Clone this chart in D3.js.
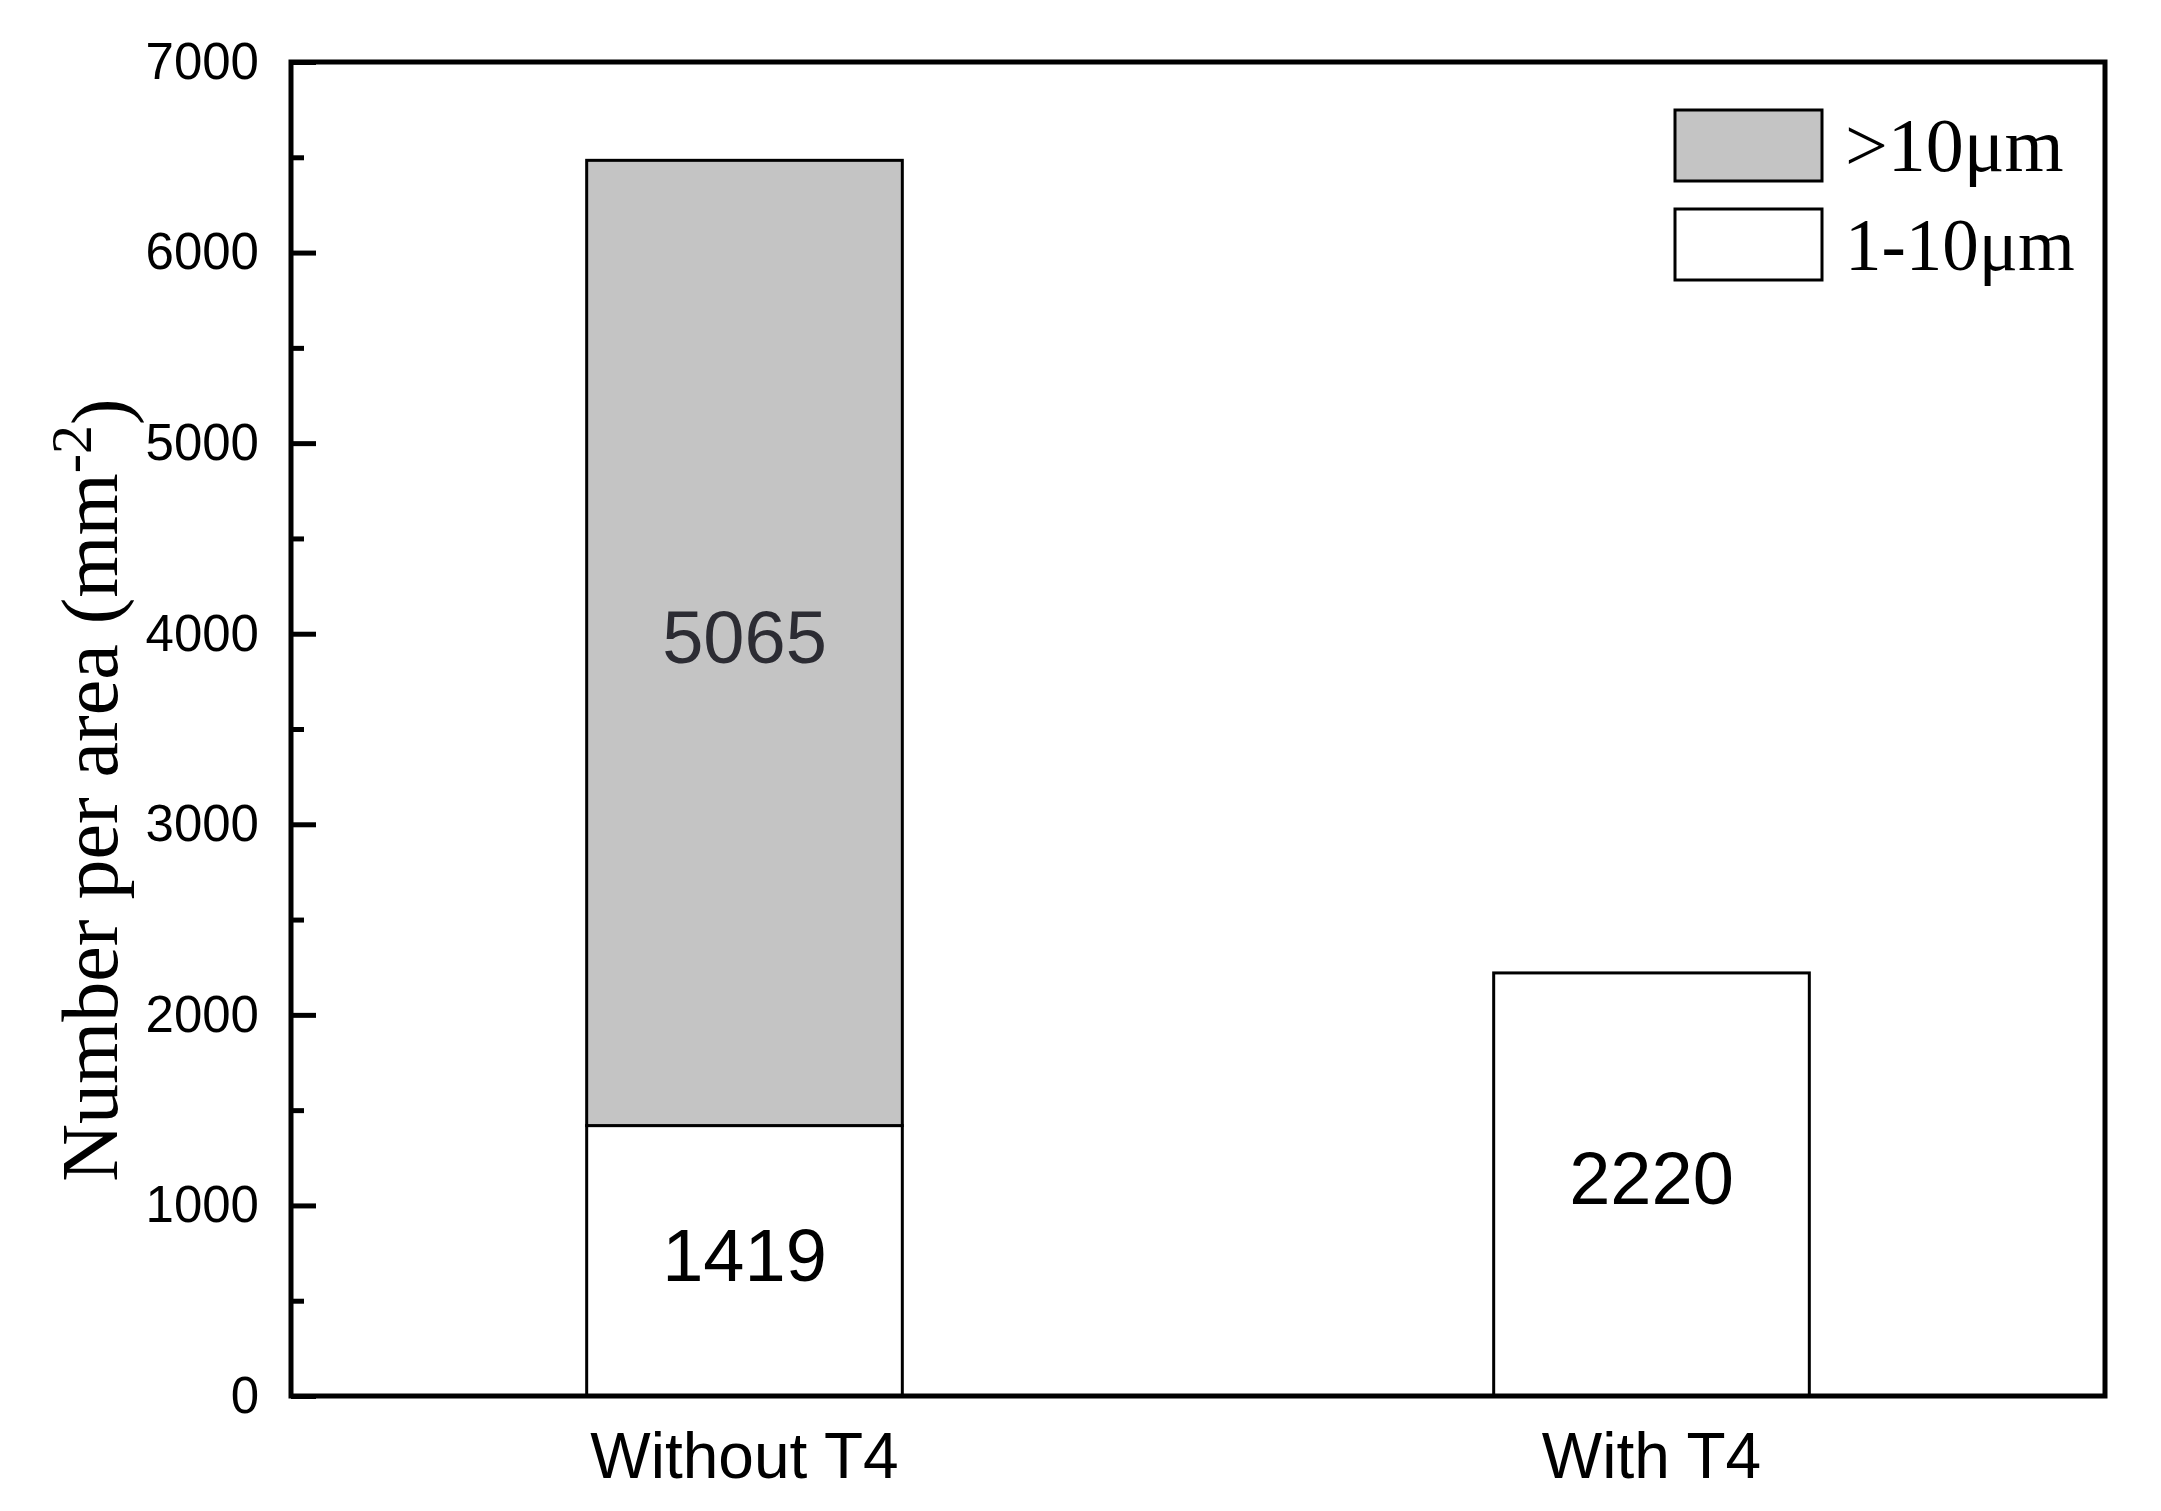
<!DOCTYPE html>
<html>
<head>
<meta charset="utf-8">
<script src="https://cdn.jsdelivr.net/npm/d3@7"></script>
<style>
  body { margin: 0; background: #fff; }
  .axis text { font-family: "Liberation Sans", Arial, sans-serif; fill: #000; }
</style>
</head>
<body>
<div id="chart"></div>
<script>
//data
var categories = ["Without T4", "With T4"];
var small = [1419, 2220];   // 1-10um
var large = [5065, 0];      // >10um
var seriesNames = ["1-10\u03bcm", ">10\u03bcm"];
var yTicks = [0, 1000, 2000, 3000, 4000, 5000, 6000, 7000];
var yMinor = [500, 1500, 2500, 3500, 4500, 5500, 6500];

var rows = categories.map(function(c, i){
    return {cat: c, small: small[i], large: large[i]};
});

var width = 2161, height = 1511;
var margin = {left: 291, right: 56, top: 62, bottom: 115};
var w = width - margin.left - margin.right,
    h = height - margin.top - margin.bottom;

var svg = d3.select("#chart").append("svg")
    .attr("width", width).attr("height", height);
var g = svg.append("g")
    .attr("transform", "translate(" + margin.left + "," + margin.top + ")");

//scales
var x = d3.scaleBand().domain(categories).range([0, w])
    .paddingInner(0.652).paddingOuter(0.326);
var y = d3.scaleLinear().domain([0, 7000]).range([h, 0]);
var fill = {small: "#ffffff", large: "#c4c4c4"};

//stacked bars
var stack = d3.stack().keys(["small", "large"])(rows);
stack.forEach(function(layer){
    g.selectAll(".bar-" + layer.key)
        .data(layer.filter(function(d){ return d[1] - d[0] > 0; }))
        .enter().append("rect")
        .attr("x", function(d){ return x(d.data.cat); })
        .attr("y", function(d){ return y(d[1]); })
        .attr("width", x.bandwidth())
        .attr("height", function(d){ return y(d[0]) - y(d[1]); })
        .attr("fill", fill[layer.key])
        .attr("stroke", "#000")
        .attr("stroke-width", 3);

    //value labels in the middle of each segment
    g.selectAll(".lab-" + layer.key)
        .data(layer.filter(function(d){ return d[1] - d[0] > 0; }))
        .enter().append("text")
        .attr("x", function(d){ return x(d.data.cat) + x.bandwidth()/2; })
        .attr("y", function(d){ return y((d[0] + d[1])/2); })
        .attr("dy", "0.27em")
        .attr("text-anchor", "middle")
        .style("font-family", "'Liberation Sans', Arial, sans-serif")
        .style("font-size", "74px")
        .attr("fill", layer.key == "large" ? "#2c2c33" : "#000")
        .text(function(d){ return d[1] - d[0]; });
});

//y axis, ticks pointing inward
var yA = d3.axisLeft(y).tickValues(yTicks).tickSize(-25).tickPadding(32)
    .tickFormat(d3.format("d"));
var yAxis = g.append("g").attr("class", "axis").call(yA);
yAxis.select(".domain").remove();
yAxis.selectAll(".tick line").attr("stroke-width", 5);
yAxis.selectAll("text").style("font-size", "51px");

var yM = d3.axisLeft(y).tickValues(yMinor).tickSize(-13).tickFormat("");
var yMinorAxis = g.append("g").attr("class", "axis").call(yM);
yMinorAxis.select(".domain").remove();
yMinorAxis.selectAll(".tick line").attr("stroke-width", 5);

//x axis
var xA = d3.axisBottom(x).tickSize(0).tickPadding(37);
var xAxis = g.append("g").attr("class", "axis")
    .attr("transform", "translate(0," + h + ")").call(xA);
xAxis.select(".domain").remove();
xAxis.selectAll("text").style("font-size", "64px");

//frame
g.append("rect")
    .attr("x", 0).attr("y", 0).attr("width", w).attr("height", h)
    .attr("fill", "none").attr("stroke", "#000").attr("stroke-width", 5);

//y label
var yl = svg.append("text")
    .attr("transform", "translate(117," + 790 + ") rotate(-90)")
    .attr("text-anchor", "middle")
    .style("font-family", "'Liberation Serif', 'Times New Roman', serif")
    .style("font-size", "80px");
yl.append("tspan").text("Number per area (mm");
yl.append("tspan").attr("dy", "-0.45em").style("font-size", "58px").text("-2");
yl.append("tspan").attr("dy", "0.45em").text(")");

//legend
var legend = svg.append("g").attr("transform", "translate(1675,110)");
var legendKeys = ["large", "small"];
legendKeys.forEach(function(k, i){
    var row = legend.append("g").attr("transform", "translate(0," + i*99 + ")");
    row.append("rect")
        .attr("width", 147).attr("height", 71)
        .attr("fill", fill[k]).attr("stroke", "#000").attr("stroke-width", 3);
    row.append("text")
        .attr("x", 170).attr("y", 61)
        .style("font-family", "'Liberation Serif', 'Times New Roman', serif")
        .style("font-size", k == "large" ? "76px" : "73px")
        .text(k == "large" ? seriesNames[1] : seriesNames[0]);
});
</script>
</body>
</html>
